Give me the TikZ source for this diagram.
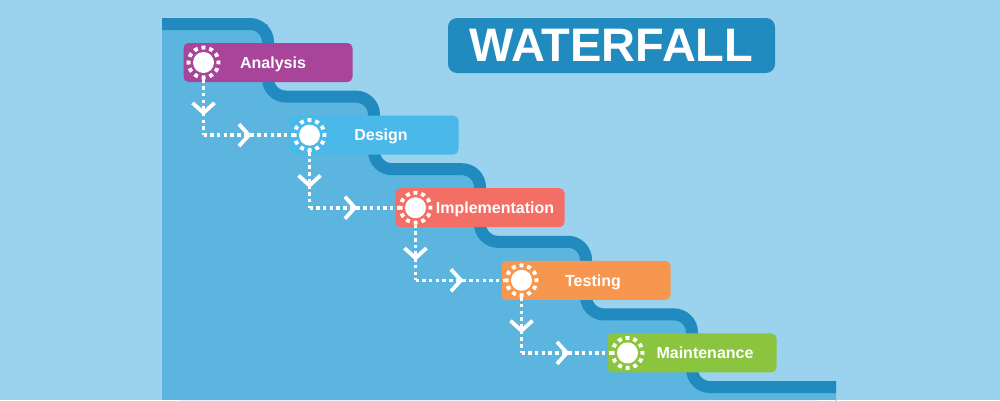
\documentclass[tikz,border=0pt]{standalone}
\usepackage{fontspec}
\setmainfont{Liberation Sans}
\usetikzlibrary{arrows.meta,decorations.markings,calc}
\definecolor{bgc}{HTML}{9BD3EF}
\definecolor{stairc}{HTML}{5BB5DF}
\definecolor{darkc}{HTML}{218BBF}
\definecolor{c1c}{HTML}{A8449A}
\definecolor{c2c}{HTML}{4AB8E9}
\definecolor{c3c}{HTML}{F36E64}
\definecolor{c4c}{HTML}{F7964F}
\definecolor{c5c}{HTML}{8BC53F}
\tikzset{
  chev/.tip={Straight Barb[length=10pt,width=22pt,line width=3.8pt]},
  band/.style={draw=darkc,line width=12pt,rounded corners=18pt},
  stagebox/.style={rounded corners=5pt,minimum width=169pt,minimum height=39pt,inner sep=0pt},
  ring/.style={circle,minimum size=30pt,inner sep=0pt,draw=white,line width=3.9pt,
    dash pattern=on 3.9pt off 3.954pt,dash phase=1.95pt,
    path picture={\fill[white] (path picture bounding box.center) circle[radius=10.5pt];}},
  lab/.style={text=white,font=\bfseries\fontsize{16}{18}\selectfont,anchor=base,inner sep=0pt},
  conn/.style={draw=white,line width=3.6pt,dash pattern=on 3.5pt off 3.2pt},
  dmark/.style={postaction={decorate,decoration={markings,mark=at position #1 with {\arrow{chev}}}}}
}
\begin{document}
\begin{tikzpicture}[x=1pt,y=-1pt]
\useasboundingbox (0,0) rectangle (1000,400);
\fill[bgc] (0,0) rectangle (1000,400);
% staircase fill
\fill[stairc,rounded corners=18pt] (162,24) -| (268,96.6) -| (374,169.2) -| (480,241.8) -| (586,314.4) -| (692,387) -- (836,387) -- (836,400) -- (162,400) -- cycle;
\fill[stairc] (162,24) rectangle (268,400);
\fill[stairc] (162,387) rectangle (836,400);
% staircase line
\draw[band] (162,24) -| (268,96.6) -| (374,169.2) -| (480,241.8) -| (586,314.4) -| (692,387) -- (836,387);
% title
\node[fill=darkc,rounded corners=9pt,minimum width=327pt,minimum height=55pt,inner sep=0pt,
  text=white,font=\bfseries\fontsize{47}{50}\selectfont] (title) at (611.5,45.5) {WATERFALL};
% boxes
\node[stagebox,fill=c1c] (b1) at (268,62.5) {};
\node[stagebox,fill=c2c] (b2) at (374,135.1) {};
\node[stagebox,fill=c3c] (b3) at (480,207.7) {};
\node[stagebox,fill=c4c] (b4) at (586,280.3) {};
\node[stagebox,fill=c5c] (b5) at (692,352.9) {};
% labels
\node[lab] (t1) at (273,68.3) {Analysis};
\node[lab] (t2) at (381,140.9) {Design};
\node[lab] (t3) at (495,213.5) {Implementation};
\node[lab] (t4) at (593,286.1) {Testing};
\node[lab] (t5) at (705,358.7) {Maintenance};
% circles
\node[ring] (c1) at (203.5,62.5) {};
\node[ring] (c2) at (309.5,135.1) {};
\node[ring] (c3) at (415.5,207.7) {};
\node[ring] (c4) at (521.5,280.3) {};
\node[ring] (c5) at (627.5,352.9) {};
% connectors
\foreach \a/\b in {1/2,2/3,3/4,4/5}{
  \coordinate (k\a) at (c\a |- c\b);
  \draw[conn,dmark=36pt] (c\a) -- (k\a);
  \draw[conn,dmark=48pt] (k\a) -- (c\b);
}
\end{tikzpicture}
\end{document}
